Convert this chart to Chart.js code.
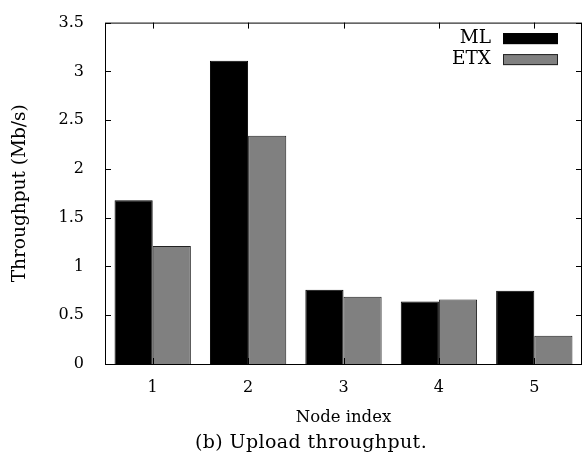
<!DOCTYPE html>
<html>
<head>
<meta charset="utf-8">
<script src="https://cdn.jsdelivr.net/npm/chart.js@4.4.1/dist/chart.umd.min.js"></script>
<style>
  html, body { margin: 0; padding: 0; background: #fff; overflow: hidden; }
  #wrap { position: relative; width: 587px; height: 458px; }
  #caption { position: absolute; left: 61px; width: 500px; top: 430px; text-align: center; font: 19px "DejaVu Serif"; letter-spacing: 0.4px; color: #000; }
</style>
</head>
<body>
<div id="wrap">
  <canvas id="upload-chart" width="587" height="458"></canvas>
  <div id="caption">(b) Upload throughput.</div>
</div>
<script>
const nodes = ['1', '2', '3', '4', '5'];
const mlValues = [1.68, 3.11, 0.76, 0.64, 0.75];
const etxValues = [1.21, 2.34, 0.69, 0.66, 0.29];
const yTicks = [0, 0.5, 1, 1.5, 2, 2.5, 3, 3.5];

const serif = '"DejaVu Serif", serif';

// gnuplot style box: frame, inward ticks on all sides, legend top right
const framePlugin = {
  id: 'frame',
  afterDatasetsDraw(chart) {
    const { ctx, chartArea: a, scales: { x, y } } = chart;
    ctx.save();
    ctx.strokeStyle = '#000';
    ctx.lineWidth = 1;
    ctx.strokeRect(a.left + 0.5, a.top + 0.5, a.right - a.left - 1, a.bottom - a.top);
    ctx.beginPath();
    yTicks.forEach(v => {
      const py = Math.round(y.getPixelForValue(v)) + 0.5;
      ctx.moveTo(a.left, py); ctx.lineTo(a.left + 6, py);
      ctx.moveTo(a.right, py); ctx.lineTo(a.right - 6, py);
    });
    nodes.forEach((n, i) => {
      const px = Math.round(x.getPixelForValue(i)) + 0.5;
      ctx.moveTo(px, a.top); ctx.lineTo(px, a.top + 6);
      ctx.moveTo(px, a.bottom); ctx.lineTo(px, a.bottom - 6);
    });
    ctx.stroke();

    ctx.font = '18.5px ' + serif;
    ctx.textAlign = 'right';
    ctx.textBaseline = 'middle';
    chart.data.datasets.forEach((ds, i) => {
      const cy = a.top + 16 + i * 21;
      ctx.fillStyle = '#000';
      ctx.fillText(ds.label, a.right - 91, cy);
      ctx.fillStyle = ds.backgroundColor;
      ctx.fillRect(a.right - 79, cy - 5.5, 55, 11);
      ctx.strokeStyle = ds.borderColor;
      ctx.strokeRect(a.right - 78.5, cy - 5, 54, 10);
    });
    ctx.restore();
  }
};

new Chart(document.getElementById('upload-chart'), {
  type: 'bar',
  data: {
    labels: nodes,
    datasets: [
      {
        label: 'ML',
        data: mlValues,
        backgroundColor: '#000000',
        borderColor: '#000000',
        borderWidth: 1,
      },
      {
        label: 'ETX',
        data: etxValues,
        backgroundColor: '#808080',
        borderColor: '#222222',
        borderWidth: 1,
      },
    ],
  },
  options: {
    responsive: false,
    animation: false,
    layout: { padding: { top: 18, right: 5, bottom: 25, left: 0 } },
    datasets: {
      bar: { categoryPercentage: 0.8, barPercentage: 1.0 },
    },
    scales: {
      x: {
        grid: { display: false },
        border: { display: false },
        ticks: { color: '#000', font: { family: serif, size: 16 }, padding: 6 },
        title: {
          display: true,
          text: 'Node index',
          color: '#000',
          font: { family: serif, size: 16.5 },
          padding: { top: 5, bottom: 5 },
        },
        afterFit(scale) { scale.height = 69; },
      },
      y: {
        min: 0,
        max: 3.5,
        grid: { display: false },
        border: { display: false },
        afterBuildTicks(scale) { scale.ticks = yTicks.map(v => ({ value: v })); },
        ticks: {
          color: '#000',
          font: { family: serif, size: 16 },
          padding: 13,
          callback: v => String(v),
        },
        title: {
          display: true,
          text: 'Throughput (Mb/s)',
          color: '#000',
          font: { family: serif, size: 18.5 },
          padding: { top: 9, bottom: 9 },
        },
        afterFit(scale) { scale.width = 105; },
      },
    },
    plugins: {
      legend: { display: false },
      tooltip: { enabled: false },
    },
  },
  plugins: [framePlugin],
});
</script>
</body>
</html>
